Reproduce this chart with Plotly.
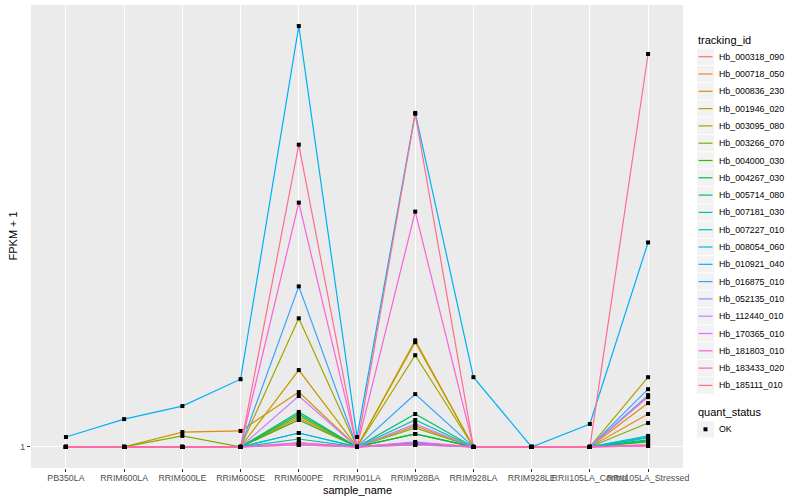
import plotly.graph_objects as go

samples = ["PB350LA", "RRIM600LA", "RRIM600LE", "RRIM600SE", "RRIM600PE", "RRIM901LA",
           "RRIM928BA", "RRIM928LA", "RRIM928LE", "RRII105LA_Control", "RRII105LA_Stressed"]

tracking_ids = ["Hb_000318_090", "Hb_000718_050", "Hb_000836_230", "Hb_001946_020", "Hb_003095_080",
                "Hb_003266_070", "Hb_004000_030", "Hb_004267_030", "Hb_005714_080", "Hb_007181_030",
                "Hb_007227_010", "Hb_008054_060", "Hb_010921_040", "Hb_016875_010", "Hb_052135_010",
                "Hb_112440_010", "Hb_170365_010", "Hb_181803_010", "Hb_183433_020", "Hb_185111_010"]

colors = ["#F8766D", "#EA8331", "#D89000", "#C09B00", "#A3A500", "#7CAE00", "#39B600", "#00BB4E",
          "#00BF7D", "#00C1A3", "#00BFC4", "#00BAE0", "#00B0F6", "#35A2FF", "#9590FF", "#C77CFF",
          "#E76BF3", "#FA62DB", "#FF62BC", "#FF6C91"]

# FPKM + 1 per gene, in sample order
fpkm = [
    [1, 1, 1, 1, 1.010, 1, 1.010, 1, 1, 1, 1.010],
    [1, 1, 1, 1, 1.153, 1, 1.109, 1, 1, 1, 1.176],
    [1, 1, 1.076, 1.082, 1.310, 1, 1.675, 1, 1, 1, 1.241],
    [1, 1, 1, 1, 1.460, 1, 1.691, 1, 1, 1, 1.285],
    [1, 1, 1, 1, 1.884, 1, 1.571, 1, 1, 1, 1.410],
    [1, 1, 1.056, 1, 1.165, 1, 1.098, 1, 1, 1, 1.125],
    [1, 1, 1, 1, 1.142, 1, 1.066, 1, 1, 1, 1.025],
    [1, 1, 1, 1, 1.176, 1, 1.066, 1, 1, 1, 1.035],
    [1, 1, 1, 1, 1.188, 1, 1.176, 1, 1, 1, 1.030],
    [1, 1, 1, 1, 1.040, 1, 1.142, 1, 1, 1, 1.045],
    [1, 1, 1, 1, 1.071, 1, 1.020, 1, 1, 1, 1.050],
    [1, 1, 1, 1, 1.071, 1, 1.020, 1, 1, 1, 1.056],
    [1.050, 1.147, 1.223, 1.396, 7.943, 1.050, 5.180, 1.410, 1, 1.120, 2.737],
    [1, 1, 1, 1, 2.205, 1, 1.297, 1, 1, 1, 1.329],
    [1, 1, 1, 1, 1.020, 1, 1.010, 1, 1, 1, 1.291],
    [1, 1, 1, 1, 1.285, 1, 1.120, 1, 1, 1, 1.278],
    [1, 1, 1, 1, 1.010, 1, 1.025, 1, 1, 1, 1.010],
    [1, 1, 1, 1, 3.330, 1, 3.186, 1, 1, 1, 1.005],
    [1, 1, 1, 1, 1.020, 1, 1.015, 1, 1, 1, 1.005],
    [1, 1, 1, 1, 4.429, 1, 5.157, 1, 1, 1, 6.923],
]

quant_status = ["OK"]

FONT = "Liberation Sans"
W, H = 800, 500
ML, MR, MT, MB = 31, 117, 5, 32
PW, PH = W - ML - MR, H - MT - MB


def px(xp):
    return (xp - ML) / PW


def py(yp):
    return (H - MB - yp) / PH


fig = go.Figure()

for tid, col, vals in zip(tracking_ids, colors, fpkm):
    fig.add_trace(go.Scatter(
        x=samples, y=vals, mode="lines", name=tid,
        line=dict(color=col, width=1.2), showlegend=False,
    ))

all_x, all_y = [], []
for vals in fpkm:
    all_x += samples
    all_y += vals
fig.add_trace(go.Scatter(
    x=all_x, y=all_y, mode="markers", name="OK", showlegend=False,
    marker=dict(symbol="square", size=4, color="black", line=dict(width=0)),
))

# ---- manual ggplot-style legend ----
shapes, annos = [], []
kx0, kx1 = 697, 714
annos.append(dict(x=px(696), y=py(40.5), xref="paper", yref="paper", text="tracking_id",
                  showarrow=False, xanchor="left", yanchor="middle",
                  font=dict(size=11, color="black", family=FONT)))
for i, (tid, col) in enumerate(zip(tracking_ids, colors)):
    cy = 56.7 + 17.3 * i
    shapes.append(dict(type="rect", xref="paper", yref="paper",
                       x0=px(kx0), x1=px(kx1), y0=py(cy - 8.2), y1=py(cy + 8.2),
                       fillcolor="#F2F2F2", line=dict(width=0), layer="above"))
    shapes.append(dict(type="line", xref="paper", yref="paper",
                       x0=px(kx0 + 1.5), x1=px(kx1 - 1.5), y0=py(cy), y1=py(cy),
                       line=dict(color=col, width=1.2), layer="above"))
    annos.append(dict(x=px(716.5), y=py(cy), xref="paper", yref="paper", text=tid,
                      showarrow=False, xanchor="left", yanchor="middle",
                      font=dict(size=8.8, color="black", family=FONT)))

annos.append(dict(x=px(696), y=py(412.3), xref="paper", yref="paper", text="quant_status",
                  showarrow=False, xanchor="left", yanchor="middle",
                  font=dict(size=11, color="black", family=FONT)))
cy = 429.3
shapes.append(dict(type="rect", xref="paper", yref="paper",
                   x0=px(kx0), x1=px(kx1), y0=py(cy - 8.2), y1=py(cy + 8.2),
                   fillcolor="#F2F2F2", line=dict(width=0), layer="above"))
shapes.append(dict(type="rect", xref="paper", yref="paper",
                   x0=px(703.5), x1=px(707.5), y0=py(cy - 2), y1=py(cy + 2),
                   fillcolor="black", line=dict(width=0), layer="above"))
annos.append(dict(x=px(716.5), y=py(cy), xref="paper", yref="paper", text=quant_status[0],
                  showarrow=False, xanchor="left", yanchor="middle",
                  font=dict(size=8.8, color="black", family=FONT)))

# axis titles as annotations (ggplot positions)
annos.append(dict(x=0.5, y=py(489.5), xref="paper", yref="paper", text="sample_name",
                  showarrow=False, xanchor="center", yanchor="middle",
                  font=dict(size=11, color="black", family=FONT)))
annos.append(dict(x=px(12), y=0.5, xref="paper", yref="paper", text="FPKM + 1",
                  showarrow=False, xanchor="center", yanchor="middle", textangle=-90,
                  font=dict(size=11, color="black", family=FONT)))

ymax_log = 0.9
fig.update_layout(
    width=W, height=H,
    margin=dict(l=ML, r=MR, t=MT, b=MB, autoexpand=False),
    paper_bgcolor="white", plot_bgcolor="#EBEBEB",
    font=dict(family=FONT, size=9, color="black"),
    showlegend=False, shapes=shapes, annotations=annos,
)
fig.update_xaxes(
    type="category", categoryorder="array", categoryarray=samples,
    range=[-0.6, len(samples) - 0.4], automargin=False,
    showgrid=True, gridcolor="white", gridwidth=1.1, zeroline=False,
    ticks="outside", ticklen=3, tickcolor="#333333", tickangle=0, ticklabelstandoff=-2,
    tickfont=dict(size=8.8, color="#4D4D4D", family=FONT),
    showline=False,
)
fig.update_yaxes(
    type="log", range=[-0.05 * ymax_log, 1.05 * ymax_log], automargin=False,
    tickvals=[1], ticktext=["1"],
    showgrid=True, gridcolor="white", gridwidth=1.1, zeroline=False,
    ticks="outside", ticklen=3, tickcolor="#333333",
    tickfont=dict(size=8.8, color="#4D4D4D", family=FONT),
    showline=False,
)

fig.write_html("out.html", config={"displayModeBar": False},
               post_script="document.body.style.margin='0';document.body.style.padding='0';")
